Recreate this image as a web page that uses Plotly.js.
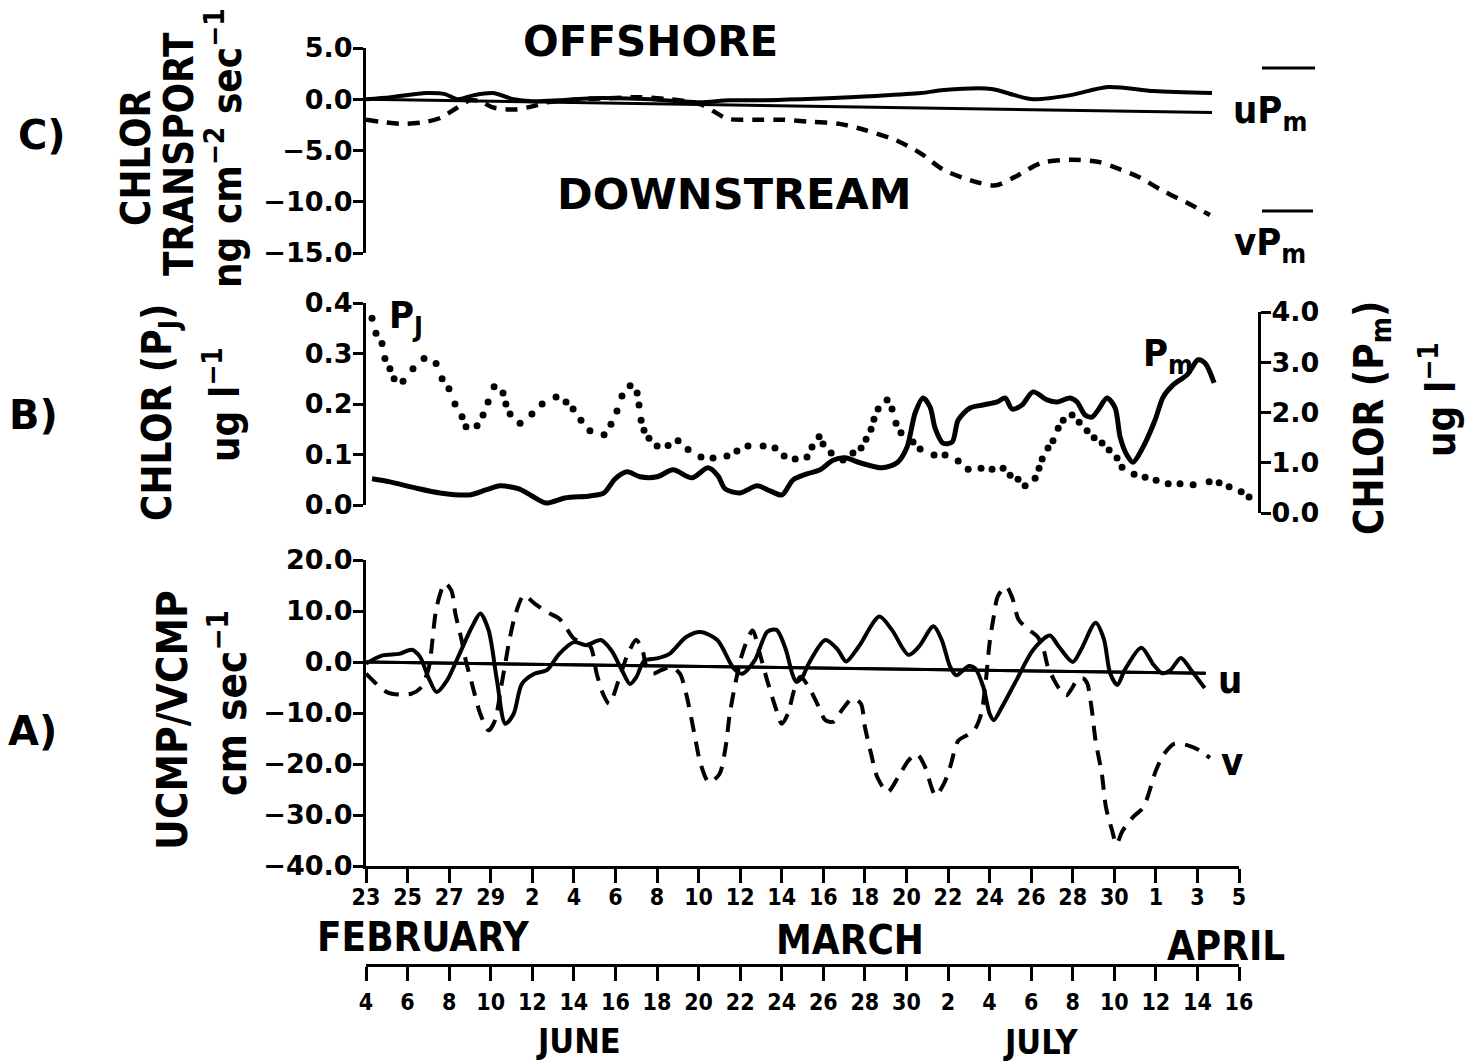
<!DOCTYPE html>
<html>
<head>
<meta charset="utf-8">
<script src="https://cdn.plot.ly/plotly-3.0.1.min.js"></script>
<style>html,body{margin:0;padding:0;background:#fff;}#chart{width:1468px;height:1063px;}</style>
</head>
<body>
<div id="chart"></div>
<script>
// ---------------- DATA ----------------
// x axis: days since 23 February (0..42)
const tickDays = [0,2,4,6,8,10,12,14,16,18,20,22,24,26,28,30,32,34,36,38,40,42];
const febMarLabels = ['23','25','27','29','2','4','6','8','10','12','14','16','18','20','22','24','26','28','30','1','3','5'];
const junJulLabels = ['4','6','8','10','12','14','16','18','20','22','24','26','28','30','2','4','6','8','10','12','14','16'];

// Panel C: chlorophyll transport
const refCDays = [0, 40.7];
const refC = [0.0, -1.3];
const uPmDays = [0,1.2,2.9,3.8,4.4,5.2,6.1,7.1,8.0,9.3,10.8,12.2,13.7,15.1,16.1,17.5,19.0,20.9,22.2,24.2,26.7,27.8,30.1,31.2,32.1,33.9,35.7,37.9,40.7];
const uPm = [0.0,0.2,0.6,0.5,0.0,0.4,0.6,0.0,-0.2,-0.1,0.1,0.1,0.0,-0.2,-0.3,-0.1,-0.1,0.0,0.1,0.3,0.6,0.9,1.0,0.4,0.0,0.4,1.2,0.8,0.6];
const vPmDays = [0,0.7,1.8,2.9,3.6,4.4,5.0,5.5,6.1,7.1,8.0,8.7,10.3,11.7,13.2,14.6,16.1,17.4,18.6,20.1,21.4,22.8,24.0,25.5,26.7,27.8,29.4,30.3,31.2,32.5,33.9,35.2,36.1,37.2,38.3,39.5,40.6];
const vPm = [-2.0,-2.2,-2.4,-2.2,-1.8,-0.8,-0.1,-0.2,-0.8,-1.0,-0.7,-0.3,0.0,0.1,0.2,0.0,-0.5,-1.9,-2.0,-2.0,-2.2,-2.4,-3.0,-4.0,-5.3,-6.9,-8.1,-8.4,-7.6,-6.2,-5.9,-6.1,-6.7,-7.6,-8.9,-10.1,-11.3];

// Panel B: chlorophyll P_J (left axis, dots) and P_m (right axis, solid)
const pjDays = [0.29,0.48,0.77,0.91,1.15,1.35,1.78,2.26,2.79,3.37,3.66,3.99,4.28,4.62,4.81,5.34,5.63,5.87,6.16,6.59,6.73,6.93,7.41,7.98,8.47,9.14,9.62,9.96,10.34,10.77,11.45,11.78,12.07,12.31,12.70,13.04,13.13,13.23,13.37,13.61,14.00,14.53,15.01,15.49,16.11,16.69,17.36,17.84,18.37,19.10,19.67,20.11,20.64,21.21,21.45,21.79,21.98,22.37,22.94,23.42,23.81,24.05,24.29,24.43,24.63,25.06,25.30,25.49,25.73,26.31,26.65,27.32,27.85,28.48,28.96,29.58,30.11,30.64,30.98,31.36,31.70,32.18,32.37,32.52,32.80,33.04,33.29,33.53,33.96,34.30,34.68,35.02,35.40,35.74,36.12,36.36,36.94,37.47,38.00,38.58,39.15,39.78,40.55,41.03,41.51,42.09,42.47];
const pj = [0.37,0.34,0.32,0.29,0.27,0.25,0.245,0.27,0.29,0.28,0.25,0.23,0.20,0.175,0.155,0.157,0.178,0.204,0.234,0.222,0.20,0.18,0.162,0.18,0.20,0.214,0.204,0.19,0.168,0.147,0.139,0.16,0.186,0.216,0.236,0.222,0.198,0.168,0.148,0.132,0.117,0.118,0.127,0.11,0.095,0.093,0.097,0.107,0.117,0.117,0.113,0.097,0.091,0.095,0.115,0.135,0.121,0.103,0.089,0.103,0.113,0.13,0.15,0.17,0.19,0.208,0.19,0.162,0.143,0.125,0.111,0.099,0.099,0.087,0.071,0.073,0.071,0.073,0.059,0.051,0.038,0.053,0.073,0.091,0.113,0.127,0.152,0.168,0.178,0.164,0.147,0.133,0.123,0.109,0.093,0.075,0.061,0.055,0.049,0.042,0.042,0.040,0.046,0.044,0.036,0.026,0.016];
const pmDays = [0.29,1.15,2.36,3.56,4.95,5.77,6.45,7.36,7.98,8.66,9.57,10.77,11.45,11.98,12.55,13.18,14.00,14.77,15.68,16.45,16.93,17.27,17.99,18.81,19.43,20.01,20.54,21.21,21.84,22.46,23.04,23.76,24.82,25.54,26.02,26.41,26.79,27.13,27.37,27.75,28.19,28.48,29.05,29.68,30.35,30.74,31.07,31.55,32.08,32.76,33.24,33.86,34.20,34.58,34.92,35.21,35.64,36.03,36.27,36.60,36.89,37.37,37.95,38.34,38.82,39.49,40.02,40.36,40.79];
const pm = [0.68,0.62,0.50,0.40,0.36,0.46,0.54,0.48,0.34,0.20,0.30,0.34,0.40,0.68,0.82,0.72,0.72,0.86,0.70,0.90,0.74,0.48,0.40,0.54,0.44,0.36,0.66,0.78,0.86,1.05,1.10,1.00,0.90,1.00,1.31,1.99,2.29,2.11,1.69,1.39,1.41,1.85,2.09,2.15,2.21,2.29,2.07,2.15,2.41,2.25,2.21,2.29,2.21,1.95,1.91,2.05,2.29,2.09,1.51,1.15,1.01,1.31,1.85,2.31,2.55,2.75,3.05,2.98,2.59];

// Panel A: current components
const refADays = [0, 40.4];
const refA = [0.0, -2.2];
const uDays = [0,0.8,1.6,2.2,2.6,3.0,3.4,3.9,4.5,5.1,5.5,5.9,6.3,6.7,7.1,7.5,8.1,8.7,9.3,10.0,10.6,11.3,11.8,12.3,12.7,13.0,13.4,14.0,14.6,15.4,16.1,16.9,17.7,18.1,18.7,19.3,19.75,20.2,20.5,20.7,21.0,21.3,22.1,22.7,23.1,23.7,24.7,25.3,26.1,26.6,27.3,27.7,28.1,28.4,29.0,29.3,29.7,30.0,30.2,30.6,31.3,32.1,32.9,33.3,34.0,34.4,35.1,35.5,35.8,36.15,36.5,37.3,37.9,38.3,38.7,39.2,39.7,40.35];
const u = [-0.3,1.3,1.6,2.4,1.0,-3.0,-5.9,-3.6,1.6,6.9,9.5,6.2,-3.6,-12.1,-10.2,-4.3,-2.3,-1.6,1.6,3.9,3.3,4.3,2.3,-1.5,-4.3,-3.0,0.3,0.7,1.6,4.9,5.9,4.3,-1.3,-2.3,0.3,5.9,6.3,2.4,-2.2,-3.9,-2.9,-0.3,4.3,2.4,0.1,3.0,8.9,6.3,1.4,3.0,7.0,4.3,-0.9,-2.6,-0.8,-1.2,-4.9,-10.1,-11.4,-8.8,-3.5,2.4,5.2,3.2,0.0,2.4,7.7,4.5,-2.2,-4.5,-1.6,2.8,-0.6,-2.2,-1.6,0.8,-1.6,-5.1];
const vDays = [0,0.4,1.0,1.6,2.2,2.6,3.0,3.4,3.8,4.1,4.3,4.6,4.8,5.1,5.5,5.9,6.2,6.5,6.7,6.9,7.2,7.6,8.1,8.7,9.3,9.6,10.0,10.4,10.8,11.1,11.4,11.7,12.2,12.6,13.0,13.3,13.5,13.8,14.2,14.7,15.1,15.4,15.8,16.1,16.5,17.0,17.3,17.5,17.8,18.1,18.6,18.9,19.3,19.7,20.0,20.3,20.6,20.9,21.3,21.7,22.1,22.5,22.9,23.4,23.8,24.0,24.3,24.6,25.1,25.6,26.1,26.5,26.9,27.2,27.4,27.8,28.1,28.5,28.9,29.3,29.6,29.8,30.0,30.2,30.4,30.8,31.1,31.4,31.9,32.3,32.6,32.8,33.1,33.4,33.7,34.0,34.2,34.5,34.7,34.9,35.1,35.4,35.6,35.9,36.1,36.4,36.9,37.4,37.7,38.0,38.4,38.9,39.5,40.1,40.6];
const v = [-2.3,-3.9,-5.9,-6.4,-6.2,-5.2,-1.5,10.8,15.4,14.1,9.5,4.3,0.3,-4.3,-10.2,-13.4,-11.5,-4.9,-0.3,4.3,9.5,13.1,11.5,9.8,8.5,6.9,4.6,3.9,3.0,-2.3,-6.2,-8.2,-3.0,1.6,4.3,2.3,-1.0,-2.3,-1.6,-1.0,-2.3,-6.2,-14.1,-20.0,-23.6,-22.0,-16.7,-10.2,-3.6,1.6,6.2,2.3,-3.6,-8.9,-12.1,-10.1,-5.5,-2.9,-4.9,-8.1,-11.4,-11.7,-9.4,-7.2,-8.1,-12.7,-18.0,-22.6,-25.5,-22.6,-19.3,-18.0,-20.6,-24.5,-26.2,-23.9,-20.6,-15.4,-14.4,-13.1,-10.1,-4.5,3.7,8.9,12.9,14.8,12.5,8.3,6.3,5.0,2.4,-0.9,-3.5,-5.5,-6.5,-4.9,-3.5,-3.2,-4.2,-8.8,-15.4,-21.9,-28.5,-33.1,-35.7,-33.1,-30.4,-28.5,-25.2,-21.3,-18.0,-16.0,-16.3,-17.3,-18.8];

// ---------------- LAYOUT ----------------
const W = 1468, H = 1063;
const fx = p => p / W;
const fy = p => 1 - p / H;
const WIDE = 'DejaVu Sans, Liberation Sans, sans-serif';
const NARROW = 'Liberation Sans Narrow, DejaVu Sans Condensed, Liberation Sans, sans-serif';
const BLK = 'black';

const yTickFont = {family: WIDE, size: 27, weight: 'bold', color: BLK};
const xTickFont = {family: NARROW, size: 23, weight: 'bold', color: BLK};

function yAx(extra) {
  return Object.assign({
    showline: true, linewidth: 3, linecolor: BLK, ticks: 'outside', ticklen: 10, tickwidth: 3,
    tickcolor: BLK, tickmode: 'array', tickformat: '.1f', tickfont: yTickFont, ticklabelstandoff: -5,
    showgrid: false, zeroline: false, fixedrange: true
  }, extra);
}
function xAx(extra) {
  return Object.assign({
    showline: true, linewidth: 3, linecolor: BLK, ticks: 'outside', ticklen: 14, tickwidth: 3,
    tickcolor: BLK, tickmode: 'array', tickvals: tickDays, tickfont: xTickFont, ticklabelstandoff: -6,
    showgrid: false, zeroline: false, fixedrange: true
  }, extra);
}

function ann(text, x, y, size, family, angle) {
  return {text: text, x: fx(x), y: fy(y), xref: 'paper', yref: 'paper', showarrow: false,
          xanchor: 'center', yanchor: 'middle', textangle: angle || 0,
          font: {family: family || WIDE, size: size, weight: 'bold', color: BLK}};
}

const traces = [
  {x: refCDays, y: refC, xaxis: 'x3', yaxis: 'y4', mode: 'lines', line: {color: BLK, width: 3}},
  {x: uPmDays, y: uPm, xaxis: 'x3', yaxis: 'y4', mode: 'lines', line: {color: BLK, width: 4, shape: 'spline', smoothing: 0.8}},
  {x: vPmDays, y: vPm, xaxis: 'x3', yaxis: 'y4', mode: 'lines', line: {color: BLK, width: 4.5, dash: '12px,9px', shape: 'spline', smoothing: 0.8}},
  {x: pjDays, y: pj, xaxis: 'x2', yaxis: 'y2', mode: 'markers', marker: {color: BLK, size: 7}},
  {x: pmDays, y: pm, xaxis: 'x2', yaxis: 'y3', mode: 'lines', line: {color: BLK, width: 5, shape: 'spline', smoothing: 0.8}},
  {x: refADays, y: refA, xaxis: 'x', yaxis: 'y', mode: 'lines', line: {color: BLK, width: 3}},
  // same reference line referenced on the June/July date axis so that axis is drawn
  {x: refADays, y: refA, xaxis: 'x4', yaxis: 'y', mode: 'lines', line: {color: BLK, width: 3}},
  {x: uDays, y: u, xaxis: 'x', yaxis: 'y', mode: 'lines', line: {color: BLK, width: 4, shape: 'spline', smoothing: 0.8}},
  {x: vDays, y: v, xaxis: 'x', yaxis: 'y', mode: 'lines', line: {color: BLK, width: 4, dash: '15px,10px', shape: 'spline', smoothing: 0.8}}
];

const layout = {
  width: W, height: H,
  margin: {l: 0, r: 0, t: 0, b: 0},
  paper_bgcolor: 'white', plot_bgcolor: 'rgba(0,0,0,0)',
  showlegend: false, hovermode: false,
  // Panel A
  xaxis: xAx({domain: [fx(366), fx(1239)], range: [0, 42], anchor: 'y', ticktext: febMarLabels}),
  xaxis4: xAx({overlaying: 'x', anchor: 'free', position: fy(965), side: 'bottom', range: [0, 42], ticktext: junJulLabels, ticklabelstandoff: 1}),
  yaxis: yAx({domain: [fy(866), fy(560)], range: [-40, 20], anchor: 'x', tickvals: [-40, -30, -20, -10, 0, 10, 20]}),
  // Panel B
  xaxis2: {domain: [fx(366), fx(1258)], range: [0, 42.9], anchor: 'y2', visible: false, fixedrange: true},
  yaxis2: yAx({domain: [fy(505), fy(303)], range: [0, 0.4], anchor: 'x2', tickvals: [0, 0.1, 0.2, 0.3, 0.4]}),
  yaxis3: yAx({domain: [fy(513), fy(312)], range: [0, 4], anchor: 'x2', side: 'right', tickvals: [0, 1, 2, 3, 4]}),
  // Panel C
  xaxis3: {domain: [fx(366), fx(1239)], range: [0, 42], anchor: 'y4', visible: false, fixedrange: true},
  yaxis4: yAx({domain: [fy(253), fy(48)], range: [-15, 5], anchor: 'x3', tickvals: [-15, -10, -5, 0, 5]}),
  annotations: [
    ann('C)', 42, 135, 40),
    ann('B)', 33, 415, 40),
    ann('A)', 32, 731, 40),
    ann('CHLOR', 136, 158, 40, NARROW, -90),
    ann('TRANSPORT', 179, 154, 40, NARROW, -90),
    ann('ng cm<sup>−2</sup> sec<sup>−1</sup>', 224, 148, 40, NARROW, -90),
    ann('OFFSHORE', 650, 42, 42),
    ann('DOWNSTREAM', 734, 194, 43),
    ann('uP<sub>m</sub>', 1270, 112, 38, NARROW),
    ann('vP<sub>m</sub>', 1270, 244, 38, NARROW),
    ann('P<sub>J</sub>', 406, 318, 38, NARROW),
    ann('P<sub>m</sub>', 1168, 355, 38, NARROW),
    ann('CHLOR (P<sub>J</sub>)', 160, 412, 40, NARROW, -90),
    ann('ug l<sup>−1</sup>', 222, 405, 40, NARROW, -90),
    ann('CHLOR (P<sub>m</sub>)', 1372, 418, 40, NARROW, -90),
    ann('ug l<sup>−1</sup>', 1438, 400, 40, NARROW, -90),
    ann('UCMP/VCMP', 172, 720, 42, NARROW, -90),
    ann('cm sec<sup>−1</sup>', 228, 703, 42, NARROW, -90),
    ann('u', 1230, 680, 38, NARROW),
    ann('v', 1232, 762, 38, NARROW),
    ann('FEBRUARY', 423, 937, 40, NARROW),
    ann('MARCH', 850, 940, 40, NARROW),
    ann('APRIL', 1226, 946, 40, NARROW),
    ann('JUNE', 578, 1041, 34, NARROW),
    ann('JULY', 1040, 1042, 34, NARROW)
  ],
  shapes: [
    {type: 'line', xref: 'paper', yref: 'paper', x0: fx(1262), x1: fx(1315), y0: fy(68), y1: fy(68), line: {color: BLK, width: 3}},
    {type: 'line', xref: 'paper', yref: 'paper', x0: fx(1262), x1: fx(1313), y0: fy(211), y1: fy(211), line: {color: BLK, width: 3}}
  ]
};

Plotly.newPlot('chart', traces, layout, {staticPlot: true, displayModeBar: false});
</script>
</body>
</html>
